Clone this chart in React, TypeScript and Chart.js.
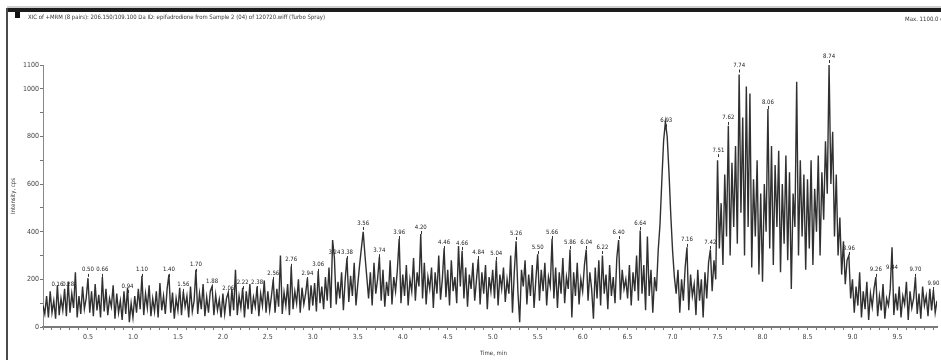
import React, { useEffect, useRef } from "react";
import { Chart, registerables } from "chart.js";

Chart.register(...registerables);

// Sampling interval of the trace (min)
const TIME_STEP = 0.02;

// Intensity (cps), one row per 0.5 min
const intensity: number[] = [
  90, 55, 130, 40, 150, 60, 110, 35, 175, 50, 120, 70, 160, 45, 190, 60, 140, 80, 230, 40, 130, 55, 170, 75, 120,
  205, 60, 150, 45, 180, 70, 135, 40, 210, 65, 160, 50, 120, 85, 175, 35, 140, 60, 110, 30, 150, 55, 165, 20, 100,
  40, 130, 60, 160, 75, 215, 50, 140, 80, 175, 45, 120, 65, 150, 40, 185, 70, 130, 55, 160, 220, 60, 145, 35, 120,
  70, 165, 50, 150, 85, 130, 40, 170, 65, 110, 240, 55, 140, 75, 180, 45, 125, 60, 150, 170, 50, 135, 70, 115, 40,
  140, 55, 120, 145, 45, 160, 70, 240, 50, 130, 80, 165, 40, 150, 75, 180, 55, 125, 85, 170, 45, 140, 90, 195, 60,
  150, 70, 130, 200, 60, 160, 85, 300, 55, 145, 90, 180, 50, 255, 75, 150, 100, 200, 60, 165, 95, 140, 205, 70, 175,
  90, 185, 65, 235, 100, 170, 75, 210, 110, 250, 80, 365, 290, 95, 190, 120, 230, 70, 200, 290, 105, 215, 130, 270, 90,
  180, 260, 330, 400, 300, 210, 120, 230, 90, 270, 140, 200, 295, 110, 240, 85, 190, 130, 280, 95, 210, 150, 240, 370, 100,
  220, 130, 260, 90, 200, 150, 290, 110, 230, 170, 390, 120, 270, 95, 210, 160, 250, 80, 230, 140, 300, 115, 200, 330, 125,
  240, 90, 280, 150, 210, 100, 340, 170, 320, 120, 250, 85, 220, 160, 270, 110, 200, 285, 95, 230, 140, 260, 75, 210, 150,
  240, 120, 280, 90, 220, 160, 250, 105, 200, 140, 300, 60, 230, 360, 150, 20, 240, 170, 280, 95, 220, 130, 260, 80, 200,
  305, 110, 240, 150, 270, 90, 210, 170, 370, 120, 250, 80, 230, 140, 290, 100, 210, 160, 325, 40, 230, 130, 270, 95, 200,
  150, 260, 325, 110, 230, 160, 35, 250, 120, 280, 90, 300, 140, 220, 75, 260, 130, 210, 100, 290, 365, 115, 240, 160, 200,
  120, 260, 90, 230, 150, 300, 110, 405, 140, 260, 70, 380, 130, 240, 60, 210, 150, 320, 430, 610, 780, 860, 800, 650, 470,
  320, 210, 140, 240, 60, 200, 110, 250, 335, 70, 220, 130, 180, 50, 240, 110, 200, 40, 230, 120, 270, 325, 150, 280, 200,
  700, 330, 520, 260, 640, 380, 845, 300, 690, 420, 760, 350, 1060, 480, 880, 300, 1010, 420, 980, 250, 620, 380, 700, 220, 560,
  190, 600, 400, 915, 330, 760, 260, 680, 420, 740, 230, 600, 350, 720, 280, 650, 160, 560, 420, 1030, 300, 700, 380, 640, 240,
  620, 330, 700, 260, 580, 400, 720, 300, 650, 450, 780, 560, 1100, 600, 820, 380, 640, 300, 460, 220, 360, 180, 280, 300, 120,
  200, 60, 170, 90, 230, 40, 150, 75, 190, 30, 140, 85, 160, 210, 45, 130, 70, 180, 35, 120, 90, 160, 335, 50, 140,
  70, 170, 40, 130, 95, 190, 30, 150, 80, 120, 210, 55, 140, 35, 170, 90, 130, 45, 160, 70, 155, 60, 110,
];

// Labelled peaks: retention time (min) and apex height (cps)
const peakTimes: number[] = [
  0.16, 0.28, 0.5, 0.66, 0.94, 1.1, 1.4, 1.56, 1.7, 1.88, 2.06, 2.22, 2.38, 2.56, 2.76, 2.94, 3.06, 3.24, 3.38, 3.56,
  3.74, 3.96, 4.2, 4.46, 4.66, 4.84, 5.04, 5.26, 5.5, 5.66, 5.86, 6.04, 6.22, 6.4, 6.64, 6.93, 7.16, 7.42, 7.51, 7.62,
  7.74, 8.06, 8.74, 8.96, 9.26, 9.44, 9.7, 9.9,
];
const peakHeights: number[] = [
  139, 139, 202, 202, 134, 202, 202, 139, 223, 155, 126, 151, 151, 189, 244, 189, 223, 277, 277, 399,
  285, 361, 382, 319, 315, 277, 273, 357, 298, 361, 319, 319, 298, 361, 399, 830, 328, 319, 705, 840,
  1060, 907, 1100, 294, 202, 214, 202, 147,
];

const yTickLabels: number[] = [0, 200, 400, 600, 800, 1000, 1100];
const xTickLabels: number[] = [0.5, 1.0, 1.5, 2.0, 2.5, 3.0, 3.5, 4.0, 4.5, 5.0, 5.5, 6.0, 6.5, 7.0, 7.5, 8.0, 8.5, 9.0, 9.5];

const TITLE_TEXT =
  "XIC of +MRM (8 pairs): 206.150/109.100 Da ID: epifadrodione from Sample 2 (04) of 120720.wiff (Turbo Spray)";
const MAX_TEXT = "Max. 1100.0 cps.";
const X_TITLE = "Time, min";
const Y_TITLE = "Intensity, cps";

const FONT = "'Liberation Sans Narrow', 'DejaVu Sans Condensed', 'Liberation Sans', Arial, sans-serif";

const decorPlugin = {
  id: "decor",
  beforeDraw(chart: any) {
    const ctx = chart.ctx;
    ctx.save();
    ctx.fillStyle = "#ffffff";
    ctx.fillRect(0, 0, chart.width, chart.height);
    // frame
    ctx.fillStyle = "#cfcfcf";
    ctx.fillRect(7, 6, chart.width - 7, 2);
    ctx.fillStyle = "#1c1c1c";
    ctx.fillRect(7, 8, chart.width - 7, 4);
    ctx.fillStyle = "#4a4a4a";
    ctx.fillRect(6, 8, 2, chart.height - 8);
    // small square marker
    ctx.fillStyle = "#111";
    ctx.fillRect(15, 12, 5, 6);
    // title
    ctx.fillStyle = "#333";
    ctx.font = `6px ${FONT}`;
    ctx.textBaseline = "middle";
    ctx.textAlign = "left";
    ctx.fillText(TITLE_TEXT, 28, 17, 297);
    ctx.fillText(MAX_TEXT, 905, 19);
    // axis titles
    ctx.fillText(X_TITLE, 480, 353);
    ctx.save();
    ctx.translate(13, 196);
    ctx.rotate(-Math.PI / 2);
    ctx.textAlign = "center";
    ctx.fillText(Y_TITLE, 0, 0);
    ctx.restore();
    ctx.restore();
  },
  afterDatasetsDraw(chart: any) {
    const ctx = chart.ctx;
    const xs = chart.scales.x;
    const ys = chart.scales.y;
    ctx.save();
    ctx.font = `6px ${FONT}`;
    ctx.fillStyle = "#222";
    ctx.strokeStyle = "#333";
    ctx.lineWidth = 1;
    ctx.textAlign = "center";
    ctx.textBaseline = "middle";
    peakTimes.forEach((t, i) => {
      const px = xs.getPixelForValue(t);
      const py = ys.getPixelForValue(peakHeights[i]);
      ctx.fillText(t.toFixed(2), px, py - 9);
      ctx.beginPath();
      ctx.moveTo(Math.round(px) + 0.5, py - 5);
      ctx.lineTo(Math.round(px) + 0.5, py - 2);
      ctx.stroke();
    });
    ctx.restore();
  },
};

export default function App() {
  const canvasRef = useRef<HTMLCanvasElement | null>(null);

  useEffect(() => {
    if (!canvasRef.current) return;
    const points = intensity.map((v, i) => ({ x: Math.round(i * TIME_STEP * 100) / 100, y: v }));
    const chart = new Chart(canvasRef.current, {
      type: "line",
      data: {
        datasets: [
          {
            data: points,
            borderColor: "rgba(25,25,25,0.9)",
            borderWidth: 1.4,
            pointRadius: 0,
            tension: 0,
            fill: false,
          },
        ],
      },
      options: {
        animation: false,
        responsive: false,
        devicePixelRatio: 1,
        parsing: false as any,
        layout: { padding: { left: 0, top: 65, right: 4, bottom: 0 } },
        plugins: {
          legend: { display: false },
          tooltip: { enabled: false },
          title: { display: false },
        },
        scales: {
          x: {
            type: "linear",
            min: 0,
            max: 9.94,
            afterBuildTicks: (scale: any) => {
              const t: any[] = [];
              for (let k = 0; k <= 99; k++) t.push({ value: k / 10 });
              scale.ticks = t;
            },
            afterFit: (scale: any) => {
              scale.height = 33;
            },
            ticks: {
              autoSkip: false,
              maxRotation: 0,
              minRotation: 0,
              padding: 3,
              color: "#444",
              font: { size: 7, family: FONT },
              callback: (v: any) => {
                const r = Math.round(Number(v) * 10) / 10;
                return xTickLabels.some((l) => Math.abs(l - r) < 1e-6) ? r.toFixed(1) : "";
              },
            },
            grid: { display: true, drawOnChartArea: false, drawTicks: true, tickLength: 3, color: "#777" },
            border: { display: true, color: "#7a7a7a", width: 2 },
          },
          y: {
            type: "linear",
            min: 0,
            max: 1100,
            afterBuildTicks: (scale: any) => {
              const t: any[] = [];
              for (let k = 0; k <= 11; k++) t.push({ value: k * 100 });
              scale.ticks = t;
            },
            afterFit: (scale: any) => {
              scale.width = 43;
            },
            ticks: {
              autoSkip: false,
              padding: 1,
              color: "#444",
              font: { size: 7, family: FONT },
              callback: (v: any) => (yTickLabels.includes(Number(v)) ? String(v) : ""),
            },
            grid: { display: true, drawOnChartArea: false, drawTicks: true, tickLength: 3, color: "#777" },
            border: { display: true, color: "#888", width: 1 },
          },
        },
      },
      plugins: [decorPlugin],
    });
    return () => chart.destroy();
  }, []);

  return (
    <div style={{ position: "absolute", left: 0, top: 0, width: 941, height: 360, background: "#fff" }}>
      <canvas ref={canvasRef} width={941} height={360} style={{ display: "block" }} />
    </div>
  );
}
